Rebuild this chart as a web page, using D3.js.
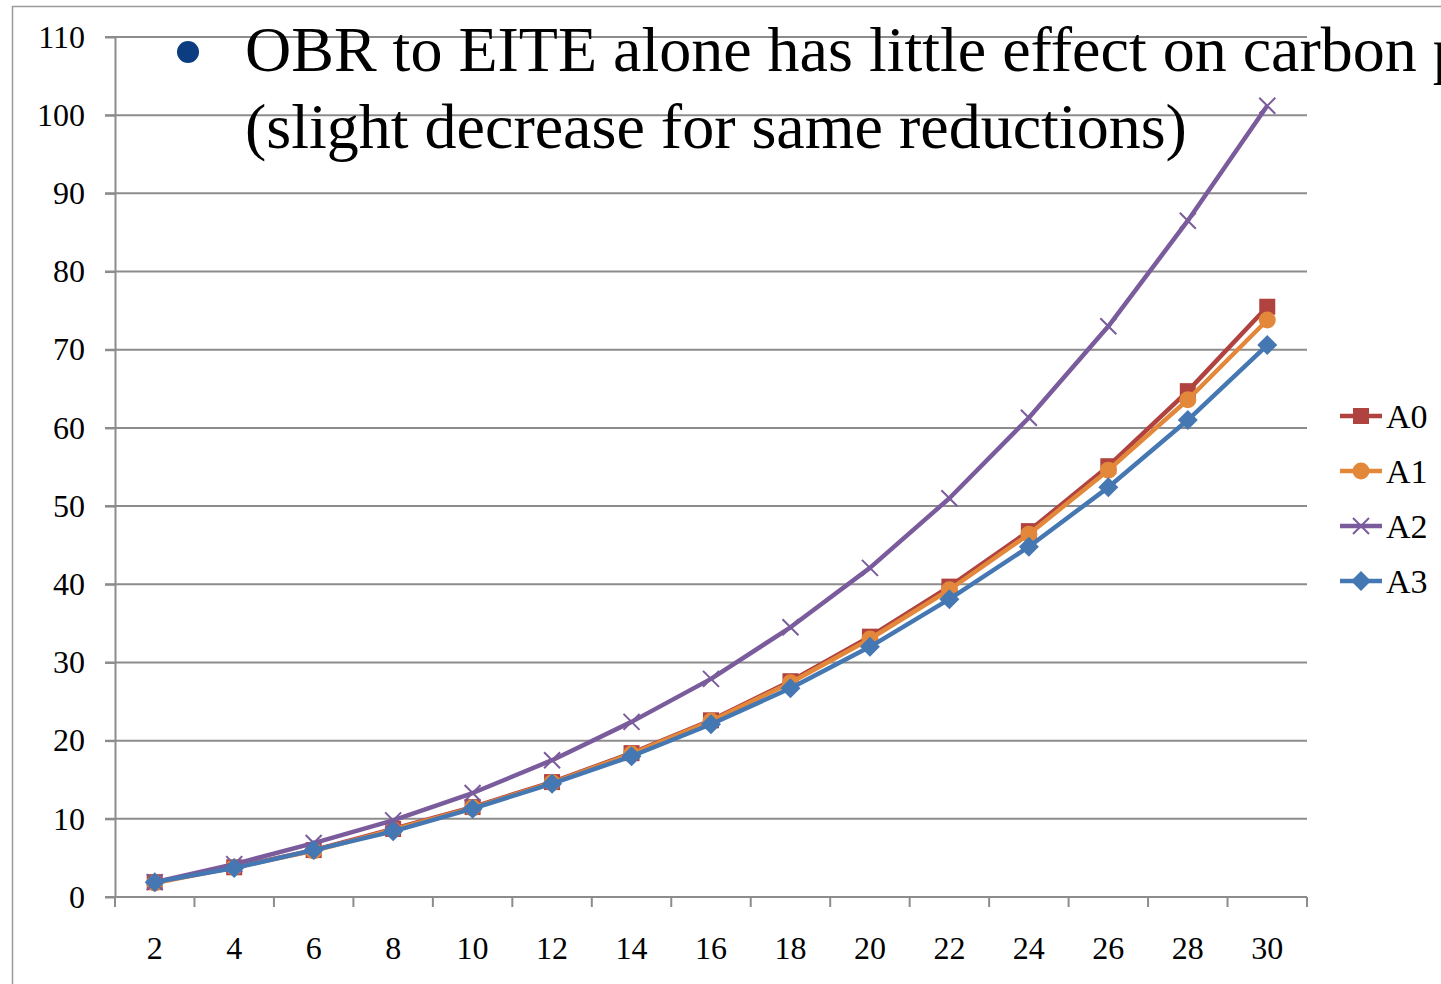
<!DOCTYPE html>
<html lang="en">
<head>
<meta charset="UTF-8">
<title>Carbon price</title>
<script src="https://d3js.org/d3.v7.min.js"></script>
<style>
    body { margin: 0; background: #fff; overflow: hidden; }
    text { font-family: "Liberation Serif", "Times New Roman", serif; fill: #000; }
    .grid line { stroke: #8c8c8c; stroke-width: 2px; }
    .axis path, .axis line { stroke: #8c8c8c; stroke-width: 2px; }
    .series-line { fill: none; stroke-width: 4.5px; stroke-linejoin: round; }
</style>
</head>
<body>
<script>
// categories and values
var categories = [2, 4, 6, 8, 10, 12, 14, 16, 18, 20, 22, 24, 26, 28, 30];
var A0 = [1.9, 3.8, 6.0, 8.7, 11.5, 14.7, 18.4, 22.6, 27.6, 33.3, 39.7, 46.8, 55.1, 64.7, 75.5];
var A1 = [1.8, 3.8, 5.9, 8.6, 11.4, 14.6, 18.3, 22.5, 27.4, 33.0, 39.3, 46.4, 54.6, 63.6, 73.8];
var A2 = [1.9, 4.2, 6.9, 9.8, 13.3, 17.5, 22.4, 27.9, 34.5, 42.1, 51.0, 61.3, 73.0, 86.5, 101.2];
var A3 = [1.9, 3.7, 6.0, 8.4, 11.3, 14.5, 18.0, 22.1, 26.7, 32.0, 38.1, 44.8, 52.4, 61.0, 70.6];
var yTicks = [0, 10, 20, 30, 40, 50, 60, 70, 80, 90, 100, 110];

var series = [
    {name: "A0", values: A0, color: "#b0423f", marker: "square"},
    {name: "A1", values: A1, color: "#e3883b", marker: "circle"},
    {name: "A2", values: A2, color: "#7a5c9c", marker: "cross"},
    {name: "A3", values: A3, color: "#4577b2", marker: "diamond"}
];

var width = 1441, height = 984;
var plotLeft = 115, plotRight = 1307, plotTop = 37, plotBottom = 897;

var svg = d3.select("body").append("svg")
    .attr("width", width)
    .attr("height", height);

// outer frame (only top and left edges visible)
svg.append("path")
    .attr("d", "M12.5," + height + "V6.5H" + width)
    .attr("fill", "none")
    .attr("stroke", "#9a9a9a")
    .attr("stroke-width", 1.5);

var x = d3.scaleBand().domain(categories).range([plotLeft, plotRight]);
var y = d3.scaleLinear().domain([0, 110]).range([plotBottom, plotTop]);

// horizontal gridlines
svg.append("g").attr("class", "grid")
    .selectAll("line")
    .data(yTicks.slice(1))
    .enter().append("line")
    .attr("x1", plotLeft - 10)
    .attr("x2", plotRight)
    .attr("y1", d => y(d))
    .attr("y2", d => y(d));

// y axis
var yAxis = svg.append("g").attr("class", "axis")
    .attr("transform", "translate(" + plotLeft + ",0)")
    .call(d3.axisLeft(y).tickValues(yTicks).tickSize(10).tickSizeOuter(0).tickPadding(20));
yAxis.attr("font-size", null).attr("font-family", null);
yAxis.selectAll("text").style("font-size", "32px");

// x axis: ticks at band edges
var xg = svg.append("g").attr("class", "axis");
xg.append("line")
    .attr("x1", plotLeft - 10).attr("x2", plotRight)
    .attr("y1", plotBottom).attr("y2", plotBottom);
xg.selectAll(".tk")
    .data(categories.concat(["end"]))
    .enter().append("line")
    .attr("class", "tk")
    .attr("x1", (d, i) => plotLeft + i * x.bandwidth())
    .attr("x2", (d, i) => plotLeft + i * x.bandwidth())
    .attr("y1", plotBottom)
    .attr("y2", plotBottom + 10);
xg.selectAll("text")
    .data(categories)
    .enter().append("text")
    .attr("x", d => x(d) + x.bandwidth() / 2)
    .attr("y", plotBottom + 62)
    .attr("text-anchor", "middle")
    .style("font-size", "32px")
    .text(d => d);

function drawMarker(g, type, color) {
    if (type === "square") {
        g.append("rect").attr("x", -8).attr("y", -8).attr("width", 16).attr("height", 16)
            .attr("fill", color);
    } else if (type === "circle") {
        g.append("circle").attr("r", 8.5).attr("fill", color);
    } else if (type === "diamond") {
        g.append("path").attr("d", "M0,-10L10,0L0,10L-10,0Z").attr("fill", color);
    } else {
        g.append("path").attr("d", "M-8,-8L8,8M-8,8L8,-8")
            .attr("stroke", color).attr("stroke-width", 2).attr("fill", "none");
    }
}

var line = d3.line()
    .x((d, i) => x(categories[i]) + x.bandwidth() / 2)
    .y(d => y(d));

series.forEach(function(s) {
    var g = svg.append("g");
    g.append("path")
        .attr("class", "series-line")
        .attr("d", line(s.values))
        .attr("stroke", s.color);
    g.selectAll(".m")
        .data(s.values)
        .enter().append("g")
        .attr("class", "m")
        .attr("transform", (d, i) => "translate(" + (x(categories[i]) + x.bandwidth() / 2) + "," + y(d) + ")")
        .each(function() { drawMarker(d3.select(this), s.marker, s.color); });
});

// legend
var legend = svg.append("g");
series.forEach(function(s, i) {
    var ly = 416 + i * 55;
    var lg = legend.append("g").attr("transform", "translate(1361," + ly + ")");
    lg.append("line").attr("x1", -21).attr("x2", 21)
        .attr("stroke", s.color).attr("stroke-width", 4.5);
    drawMarker(lg, s.marker, s.color);
    lg.append("text")
        .attr("x", 25).attr("y", 12)
        .style("font-size", "34px")
        .text(s.name);
});

// slide bullet text overlapping the chart
svg.append("circle")
    .attr("cx", 188).attr("cy", 52).attr("r", 11)
    .attr("fill", "#0b3d80");
svg.append("text")
    .attr("x", 245).attr("y", 71)
    .style("font-size", "64px")
    .text("OBR to EITE alone has little effect on carbon prices");
svg.append("text")
    .attr("x", 245).attr("y", 148)
    .style("font-size", "64px")
    .text("(slight decrease for same reductions)");
</script>
</body>
</html>
